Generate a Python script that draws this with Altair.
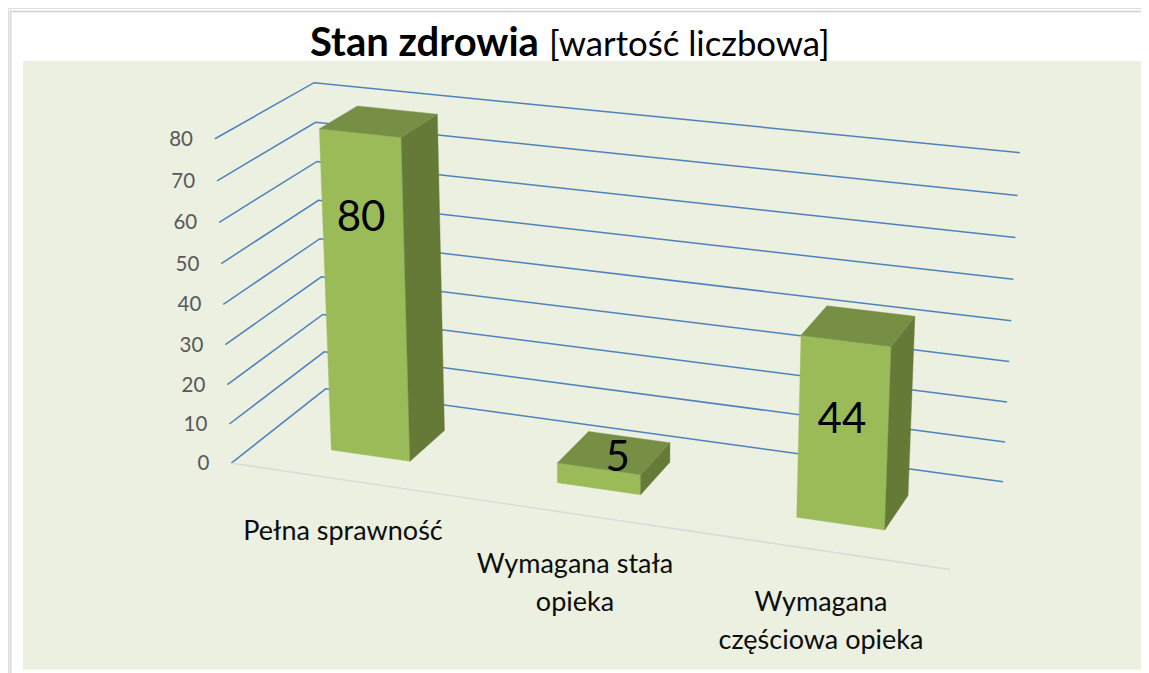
import altair as alt
import numpy as np

# ---- data ----
CATEGORIES = ["Pełna sprawność", "Wymagana stała\nopieka", "Wymagana\nczęściowa opieka"]
VALUES = [80, 5, 44]
TICKS = [0, 10, 20, 30, 40, 50, 60, 70, 80]

# ---- 3D look: camera of the perspective box (category, depth, value/80) -> page pixel ----
CAMERA = np.array([
    [213.29298630447326, 116.14082637609192, -25.096026885831726, 231.3315643102516],
    [19.744361135109042, -48.20104885739316, -330.02965935975044, 463.1244129061626],
    [-0.027609645194388577, 0.06717641909853711, -0.04069513318562912, 1.0],
])
BAR_U = (0.323, 0.677)
BAR_D = (0.30, 0.70)
FRONT, TOP, SIDE = "#9BBB59", "#778F45", "#667A37"
GRID, FLOOR = "#4F81BD", "#D9D9DB"
PANEL, BORDER = "#EBF0E0", "#D9D9D9"
FONT = "Lato"
VALUE_LABEL_OFFSET = [(1, 85), (19, -11), (-4, 79)]
CATEGORY_LABEL_AT = [(343, 532), (575, 565), (821, 603)]
PAGE_R, PAGE_B = 1141, 673
M = 8


def proj(u, d, v):
    s = CAMERA @ np.array([u, d, v / 80, 1.0])
    return float(s[0] / s[2]), float(s[1] / s[2])


X = alt.X("x:Q", scale=alt.Scale(domain=[M, PAGE_R], nice=False, zero=False), axis=None)
Y = alt.Y("y:Q", scale=alt.Scale(domain=[PAGE_B, M], nice=False, zero=False), axis=None)


def lines(rows, color, width):
    return (
        alt.Chart(alt.Data(values=rows))
        .mark_line(color=color, strokeWidth=width, clip=False)
        .encode(x=X, y=Y, detail="k:N", order="o:Q")
    )


# frame: panel and outer border
panel = (
    alt.Chart(alt.Data(values=[{"x": 23, "x2": PAGE_R, "y": 61, "y2": 669.5}]))
    .mark_rect(color=PANEL)
    .encode(x=X, x2="x2:Q", y=Y, y2="y2:Q")
)
border = lines(
    [{"k": 0, "o": 0, "x": 10.5, "y": PAGE_B}, {"k": 0, "o": 1, "x": 10.5, "y": 11.5}, {"k": 0, "o": 2, "x": PAGE_R, "y": 11.5}],
    BORDER, 2,
)

# gridlines on the side and back walls
grid_rows = []
for t in TICKS:
    for o, (u, d) in enumerate([(0, 0), (0, 1), (3, 1)]):
        px, py = proj(u, d, t)
        grid_rows.append({"k": t, "o": o, "x": px, "y": py})
grid = lines(grid_rows, GRID, 1.5)

floor_rows = []
for o, u in enumerate([0, 3]):
    px, py = proj(u, 0, 0)
    floor_rows.append({"k": "f", "o": o, "x": px, "y": py})
floor = lines(floor_rows, FLOOR, 1.4)

# bar faces
features = []


def face(pts, fill):
    ring = [list(proj(*p)) for p in pts]
    ring.append(ring[0])
    features.append({
        "type": "Feature",
        "properties": {"fill": fill},
        "geometry": {"type": "Polygon", "coordinates": [ring]},
    })


for i, val in enumerate(VALUES):
    u0, u1 = i + BAR_U[0], i + BAR_U[1]
    d0, d1 = BAR_D
    face([(u0, d0, 0), (u1, d0, 0), (u1, d0, val), (u0, d0, val)], FRONT)
    face([(u1, d0, 0), (u1, d1, 0), (u1, d1, val), (u1, d0, val)], SIDE)
    face([(u0, d0, val), (u1, d0, val), (u1, d1, val), (u0, d1, val)], TOP)

bars = (
    alt.Chart(alt.Data(values=features))
    .mark_geoshape(strokeWidth=0.4)
    .encode(
        fill=alt.Fill("properties.fill:N", scale=None),
        stroke=alt.Stroke("properties.fill:N", scale=None),
    )
    .project(type="identity", scale=1, translate=[-M, -M])
)

# axis tick labels
tick_rows = []
for t in TICKS:
    px, py = proj(0, 0, t)
    tick_rows.append({"x": px, "y": py, "t": str(t)})
tick_labels = (
    alt.Chart(alt.Data(values=tick_rows))
    .mark_text(font=FONT, fontSize=20.5, color="#595959", align="right", baseline="middle", dx=-22, dy=1)
    .encode(x=X, y=Y, text="t:N")
)

# category labels
cat_rows = [{"x": p[0], "y": p[1], "t": c} for c, p in zip(CATEGORIES, CATEGORY_LABEL_AT)]
cat_labels = (
    alt.Chart(alt.Data(values=cat_rows))
    .mark_text(font=FONT, fontSize=27, color="#0d0d0d", align="center", baseline="middle", lineBreak="\n", lineHeight=38)
    .encode(x=X, y=Y, text="t:N")
)

# value labels
val_rows = []
for i, (val, off) in enumerate(zip(VALUES, VALUE_LABEL_OFFSET)):
    px, py = proj(i + 0.5, BAR_D[0], val)
    val_rows.append({"x": px + off[0], "y": py + off[1], "t": str(val)})
val_labels = (
    alt.Chart(alt.Data(values=val_rows))
    .mark_text(font=FONT, fontSize=42, color="#000000", align="center", baseline="middle")
    .encode(x=X, y=Y, text="t:N")
)

# title
title_bold = (
    alt.Chart(alt.Data(values=[{"x": 310, "y": 56, "t": "Stan zdrowia"}]))
    .mark_text(font=FONT, fontSize=40, fontWeight="bold", color="#000000", align="left", baseline="alphabetic")
    .encode(x=X, y=Y, text="t:N")
)
title_rest = (
    alt.Chart(alt.Data(values=[{"x": 549, "y": 56, "t": "[wartość liczbowa]"}]))
    .mark_text(font=FONT, fontSize=34.7, color="#000000", align="left", baseline="alphabetic")
    .encode(x=X, y=Y, text="t:N")
)

chart = (
    alt.layer(panel, border, grid, floor, bars, tick_labels, cat_labels, val_labels, title_bold, title_rest)
    .properties(width=PAGE_R - M, height=PAGE_B - M, padding=0, autosize=alt.AutoSizeParams(type="none"))
    .configure_view(stroke=None)
    .configure(background="#FFFFFF")
)
chart.save("out.html", embed_options={"renderer": "svg", "actions": False})
